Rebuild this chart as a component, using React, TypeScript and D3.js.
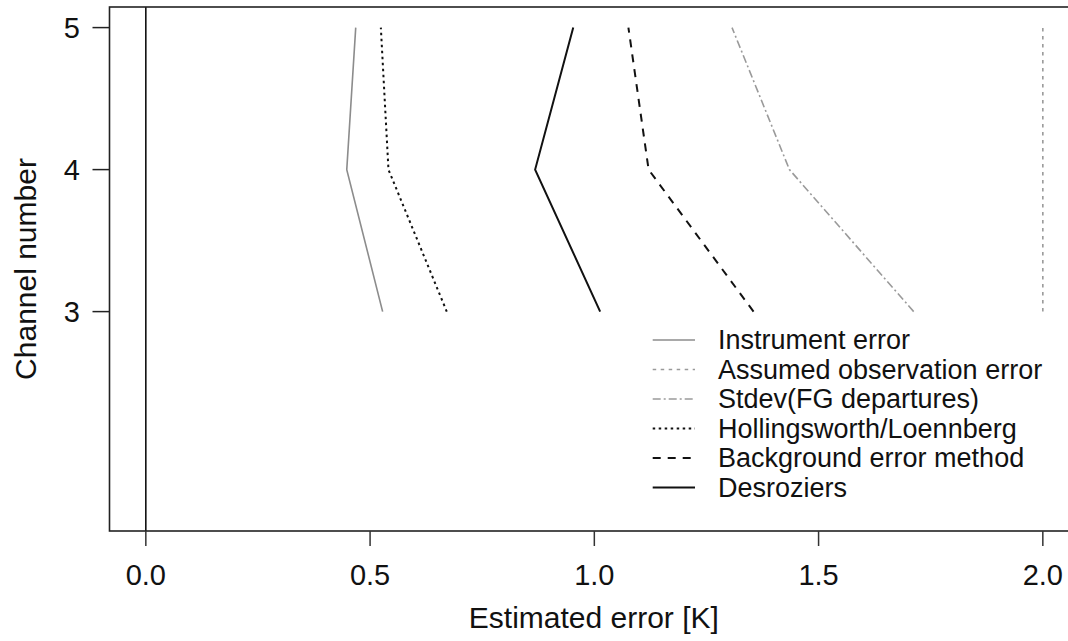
import React from "react";
import * as d3 from "d3";

const channels = [3, 4, 5];
const instrumentError = [0.528, 0.448, 0.468];
const assumedObsError = [2.0, 2.0, 2.0];
const stdevFG = [1.712, 1.435, 1.307];
const hollingsworth = [0.671, 0.541, 0.524];
const backgroundMethod = [1.355, 1.121, 1.076];
const desroziers = [1.013, 0.868, 0.953];

const xTicks = [0, 0.5, 1.0, 1.5, 2.0];
const xTickLabels = ["0.0", "0.5", "1.0", "1.5", "2.0"];
const yTicks = [3, 4, 5];
const yTickLabels = ["3", "4", "5"];

const seriesNames = [
  "Instrument error",
  "Assumed observation error",
  "Stdev(FG departures)",
  "Hollingsworth/Loennberg",
  "Background error method",
  "Desroziers",
];

const W = 1068;
const H = 641;
const FONT = "'Liberation Sans', Arial, Helvetica, sans-serif";

export default function App() {
  const xLim = [-0.081, 2.111];
  const yLim = [1.455, 5.145];
  const x = d3.scaleLinear().domain(xLim).range([109.5, 109.5 + 2.192 * 448.5]);
  const y = d3.scaleLinear().domain(yLim).range([531, 7]);

  const series = [
    { name: seriesNames[0], values: instrumentError, color: "#8c8c8c", width: 1.6, dash: null as string | null },
    { name: seriesNames[1], values: assumedObsError, color: "#9a9a9a", width: 1.6, dash: "3.5 4.5" },
    { name: seriesNames[2], values: stdevFG, color: "#9a9a9a", width: 1.6, dash: "8 3 2 3" },
    { name: seriesNames[3], values: hollingsworth, color: "#111", width: 2, dash: "2.5 3.5" },
    { name: seriesNames[4], values: backgroundMethod, color: "#111", width: 2, dash: "8 7" },
    { name: seriesNames[5], values: desroziers, color: "#111", width: 2, dash: null },
  ];

  const line = d3
    .line<[number, number]>()
    .x((d) => x(d[0]))
    .y((d) => y(d[1]));

  const boxL = x(xLim[0]);
  const boxR = x(xLim[1]);
  const boxT = y(yLim[1]);
  const boxB = y(yLim[0]);

  const legX0 = 652.7;
  const legX1 = 695;
  const legTextX = 718;
  const legY0 = 340;
  const legStep = 29.5;

  return (
    <svg
      width={W}
      height={H}
      style={{ position: "absolute", left: 0, top: 0, background: "#fff" }}
      fontFamily={FONT}
    >
      <rect x={0} y={0} width={W} height={H} fill="#fff" />
      {/* zero line */}
      <line x1={x(0)} x2={x(0)} y1={boxT} y2={boxB} stroke="#000" strokeWidth={1.5} />
      {/* series */}
      {series.map((s) => (
        <path
          key={s.name}
          d={line(channels.map((c, i) => [s.values[i], c] as [number, number])) || ""}
          fill="none"
          stroke={s.color}
          strokeWidth={s.width}
          strokeDasharray={s.dash || undefined}
        />
      ))}
      {/* box */}
      <rect
        x={boxL}
        y={boxT}
        width={boxR - boxL}
        height={boxB - boxT}
        fill="none"
        stroke="#222"
        strokeWidth={1.6}
      />
      {/* x axis */}
      {xTicks.map((t, i) => (
        <g key={"xt" + t}>
          <line x1={x(t)} x2={x(t)} y1={boxB} y2={boxB + 15} stroke="#333" strokeWidth={1.5} />
          <text x={x(t)} y={585} textAnchor="middle" fontSize={29} fill="#111">
            {xTickLabels[i]}
          </text>
        </g>
      ))}
      <text x={(x(0) + x(2)) / 2 - 0.5} y={628} textAnchor="middle" fontSize={30} fill="#111">
        Estimated error [K]
      </text>
      {/* y axis */}
      {yTicks.map((t, i) => (
        <g key={"yt" + t}>
          <line x1={boxL} x2={boxL - 17} y1={y(t)} y2={y(t)} stroke="#222" strokeWidth={1.5} />
          <text x={80} y={y(t)} dy="0.35em" textAnchor="end" fontSize={29} fill="#111">
            {yTickLabels[i]}
          </text>
        </g>
      ))}
      <text
        transform={`translate(${36},${(boxT + boxB) / 2}) rotate(-90)`}
        textAnchor="middle"
        fontSize={30}
        fill="#111"
      >
        Channel number
      </text>
      {/* legend */}
      {series.map((s, i) => {
        const ly = legY0 + i * legStep;
        return (
          <g key={"leg" + s.name}>
            <line
              x1={legX0}
              x2={legX1}
              y1={ly}
              y2={ly}
              stroke={s.color}
              strokeWidth={s.width}
              strokeDasharray={s.dash || undefined}
            />
            <text x={legTextX} y={ly} dy="0.35em" fontSize={27} fill="#111">
              {s.name}
            </text>
          </g>
        );
      })}
    </svg>
  );
}
